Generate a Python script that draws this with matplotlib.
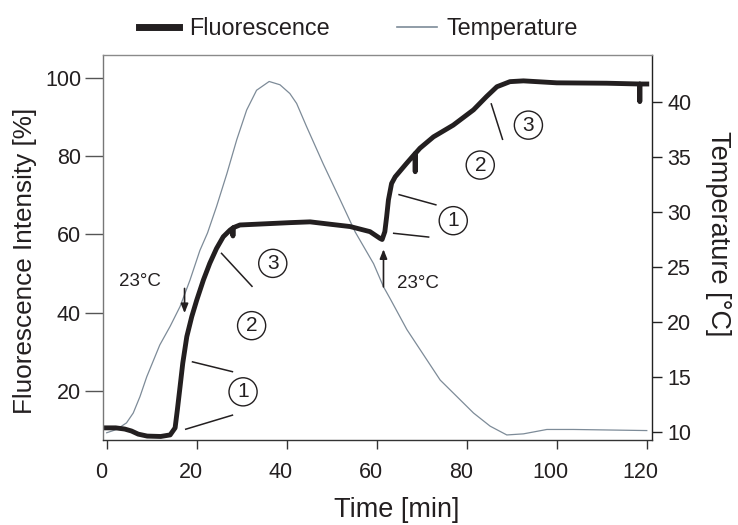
import matplotlib
matplotlib.use("Agg")
import matplotlib.pyplot as plt
from matplotlib.lines import Line2D
from matplotlib.transforms import ScaledTranslation

plt.rcParams['font.family'] = ['Liberation Sans', 'DejaVu Sans']

# ---------------- data ----------------
fluor_time = [-0.5, 2, 4, 5.5, 7, 9, 12, 14.1, 15.2, 15.7, 16.3, 16.9, 17.8, 18.9,
              20, 21.5, 22.9, 24.4, 25.9, 27.4, 28.0, 28.05, 28.1, 29.6, 33.3,
              40.7, 45.2, 49.6, 54.1, 58.5, 60.7, 61.2, 61.8, 62.2, 62.6, 63.3,
              64.1, 66.6, 68.5, 68.55, 68.6, 69.6, 72.6, 77.0, 81.5, 84.4, 86.7,
              89.6, 92.6, 100, 111.1, 118.4, 118.45, 118.5, 120]
fluor_vals = [10.6, 10.6, 10.3, 9.8, 9.0, 8.5, 8.4, 8.8, 10.6, 15.2, 21.1, 27.1, 33.9, 39.0,
              43.2, 48.4, 52.6, 56.4, 59.4, 61.1, 61.6, 59.6, 61.7, 62.4, 62.6,
              63.0, 63.2, 62.6, 62.0, 60.7, 59.0, 58.7, 60.7, 64.5, 68.8, 73.0,
              74.7, 78.1, 80.6, 76.0, 80.7, 82.0, 84.9, 87.9, 91.8, 95.2, 97.7,
              99.0, 99.2, 98.7, 98.6, 98.4, 93.9, 98.4, 98.4]

temp_time = [0, 2.2, 4.4, 5.9, 7.4, 8.9, 10.4, 11.8, 14.1, 16.3, 18.5, 20.7, 22.4,
             24.4, 26.7, 28.9, 31.1, 33.3, 36.1, 38.5, 40.7, 42.2, 44.4, 48.1,
             51.9, 55.2, 59.3, 61.5, 63.0, 66.7, 74.1, 81.5, 85.2, 88.9, 92.6,
             97.8, 103.7, 120]
temp_vals = [9.9, 10.2, 10.8, 11.7, 13.2, 15.0, 16.5, 17.9, 19.6, 21.4, 23.8, 26.5, 28.1,
             30.5, 33.5, 36.6, 39.3, 41.1, 41.9, 41.6, 40.8, 39.9, 37.8, 34.4,
             31.1, 28.2, 25.3, 23.2, 22.1, 19.3, 14.7, 11.7, 10.5, 9.7, 9.8,
             10.2, 10.2, 10.1]

x_ticks = [0, 20, 40, 60, 80, 100, 120]
fl_ticks = [20, 40, 60, 80, 100]
temp_ticks = [10, 15, 20, 25, 30, 35, 40]

series_labels = ["Fluorescence", "Temperature"]
x_label = "Time [min]"
y_left_label = "Fluorescence Intensity [%]"
y_right_label = "Temperature [°C]"

# annotations
temp_text = "23°C"
temp_text_pos = [(2.8, 47.9), (64.4, 47.5)]
arrow_tails = [(17.3, 46.2), (61.5, 46.6)]
arrow_heads = [(17.3, 39.9), (61.5, 56.2)]
circle_labels = ["1", "2", "3", "1", "2", "3"]
circle_t = [30.3, 32.2, 36.9, 77.0, 83.0, 93.7]
circle_v = [19.8, 36.7, 52.6, 63.5, 77.7, 87.9]
leader_t = [(17.4, 28.1), (18.9, 28.1), (25.4, 32.4), (63.6, 71.7), (64.8, 73.3), (85.4, 88.0)]
leader_v = [(10.2, 13.9), (27.5, 24.9), (55.3, 46.6), (60.3, 59.3), (70.2, 67.5), (93.5, 84.1)]

# ---------------- styling ----------------
INK = '#231f20'
TEMP_C = '#7d8b98'

fig = plt.figure(figsize=(7.38, 5.25), dpi=100)
ax1 = fig.add_axes([0.1389, 0.1619, 0.7442, 0.7333])
ax2 = ax1.twinx()
ax1.set_zorder(ax2.get_zorder() + 1)
ax1.patch.set_visible(False)

ax2.plot(temp_time, temp_vals, color=TEMP_C, lw=0.9)
ax1.plot(fluor_time, fluor_vals, color=INK, lw=3.5, solid_joinstyle='round')

ax1.set_xlim(-0.93, 121.1)
ax1.set_ylim(7.5, 105.8)
ax2.set_ylim(9.24, 44.31)
ax1.set_xticks(x_ticks)
ax1.set_yticks(fl_ticks)
ax2.set_yticks(temp_ticks)

# spines
ax1.spines['right'].set_visible(False)
for s in ['left', 'top', 'bottom']:
    ax2.spines[s].set_visible(False)
ax1.spines['top'].set_color('#8a8a8a')
ax1.spines['left'].set_color('#777777')
ax1.spines['bottom'].set_color('#333333')
ax2.spines['right'].set_color('#222222')
for sp in list(ax1.spines.values()) + [ax2.spines['right']]:
    sp.set_linewidth(1.0)

ax1.tick_params(axis='y', direction='out', length=13, width=1, pad=2.4,
                labelsize=15.5, color='#555555', labelcolor=INK)
ax1.tick_params(axis='x', direction='out', length=6.5, width=1, pad=9,
                labelsize=15.5, color='#333333', labelcolor=INK)
ax2.tick_params(axis='y', direction='out', length=7.2, width=1, pad=4,
                labelsize=15.5, color='#222222', labelcolor=INK)

for lbl in ax1.get_xticklabels():
    lbl.set_transform(lbl.get_transform() + ScaledTranslation(-6 / 100, 0, fig.dpi_scale_trans))

ax1.set_xlabel(x_label, fontsize=19.5, color=INK)
ax1.xaxis.set_label_coords(0.535, -0.182)
ax1.xaxis.label.set_va('center')

ax1.set_ylabel(y_left_label, fontsize=18.8, color=INK)
ax1.yaxis.set_label_coords(-0.141, 0.465)
ax1.yaxis.label.set_va('center')

ax2.set_ylabel(y_right_label, fontsize=19.5, color=INK, rotation=270)
ax2.yaxis.set_label_coords(1.1207, 0.535)
ax2.yaxis.label.set_va('center')
ax2.yaxis.label.set_ha('center')

# annotations
for (tx, ty) in temp_text_pos:
    ax1.text(tx, ty, temp_text, fontsize=13.5, color=INK, ha='left', va='center')
for tail, head in zip(arrow_tails, arrow_heads):
    ax1.annotate('', xy=head, xytext=tail,
                 arrowprops=dict(arrowstyle='-|>,head_length=0.55,head_width=0.22',
                                 color=INK, lw=1.2, shrinkA=0, shrinkB=0))
for lt, lv in zip(leader_t, leader_v):
    ax1.plot(lt, lv, color=INK, lw=1.1, solid_capstyle='butt')
ax1.scatter(circle_t, circle_v, s=410, facecolors='none', edgecolors=INK, linewidths=1.0)
for lab, ct, cv in zip(circle_labels, circle_t, circle_v):
    ax1.text(ct, cv, lab, fontsize=15, color=INK, ha='center', va='center')

# legend
handles = [Line2D([], [], color=INK, lw=5.0), Line2D([], [], color=TEMP_C, lw=1.2)]
fig.legend(handles, series_labels, loc='center', bbox_to_anchor=(0.4858, 0.946),
           ncol=2, frameon=False, fontsize=16.8, handlelength=1.7,
           handletextpad=0.42, columnspacing=2.9, borderpad=0, borderaxespad=0,
           labelcolor=INK)

fig.savefig('out.png', dpi=100)
